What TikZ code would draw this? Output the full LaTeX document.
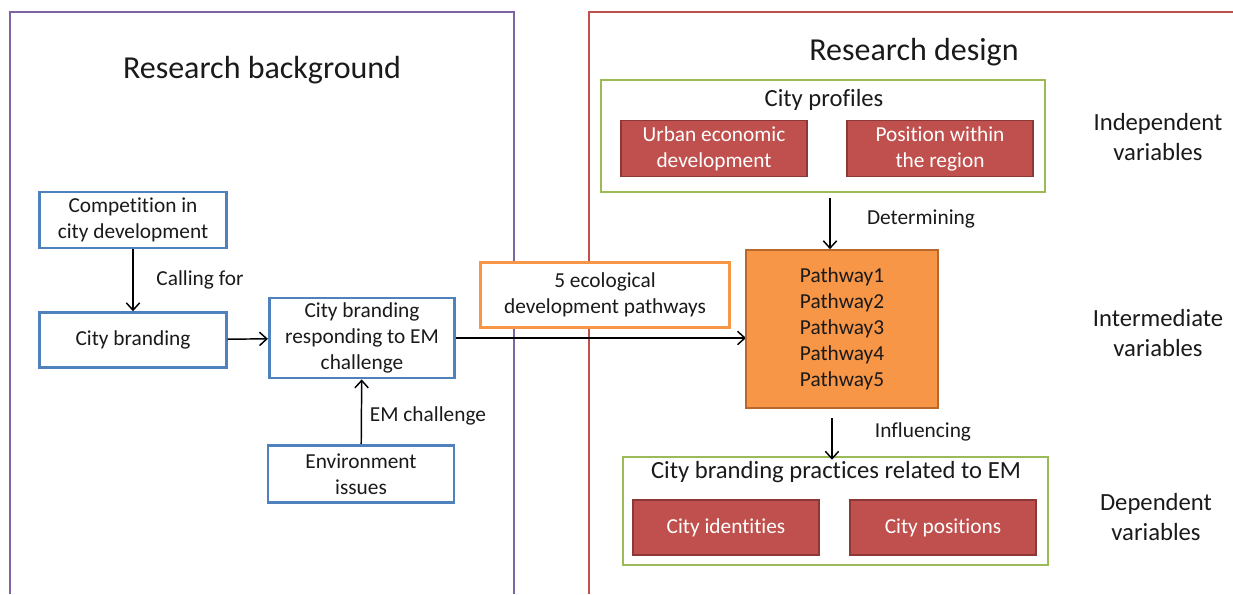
\documentclass[tikz,border=0pt]{standalone}
\usepackage{fontspec}
\setmainfont{Carlito}[Ligatures={NoCommon}]
\usepackage{tikz}
\usetikzlibrary{arrows.meta,positioning}
\definecolor{framepurple}{HTML}{8064A2}
\definecolor{framered}{HTML}{C0504D}
\definecolor{boxblue}{HTML}{4F81BD}
\definecolor{boxgreen}{HTML}{9BBB59}
\definecolor{boxorange}{HTML}{F79646}
\definecolor{darkorange}{HTML}{B8682C}
\definecolor{boxred}{HTML}{C0504D}
\definecolor{darkred}{HTML}{8C3836}
\definecolor{textgray}{HTML}{1A1A1A}
\tikzset{
  bluebox/.style={draw=boxblue, line width=2.1pt, fill=white, align=center, inner sep=1pt,
    minimum width=140pt, font=\fontsize{16}{19.5}\selectfont},
  redbox/.style={draw=darkred, line width=1.2pt, fill=boxred, text=white, align=center, inner sep=1pt,
    minimum width=139.5pt, minimum height=42pt, font=\fontsize{16}{19.5}\selectfont},
  greenbox/.style={draw=boxgreen, line width=2.1pt},
  lbl/.style={align=center, inner sep=1pt, font=\fontsize{16}{19.5}\selectfont},
  sidelbl/.style={align=center, inner sep=1pt, font=\fontsize{18.5}{22.5}\selectfont},
  titlelbl/.style={inner sep=1pt, font=\fontsize{24}{28}\selectfont},
  link/.style={->, line width=1.1pt}
}
\begin{document}
\begin{tikzpicture}[x=0.75pt,y=-0.75pt,>={Straight Barb[length=5.5pt,width=10pt]}, text=textgray]
\useasboundingbox (0,0) rectangle (1233,594);
%the two frames
\draw[framepurple, line width=2.1pt] (10,594) -- (10,12) -- (514,12) -- (514,594);
\draw[framered, line width=2.1pt] (589,594) -- (589,12) -- (1233,12);
\node[titlelbl] (bgtitle) at (262,70) {Research background};
\node[titlelbl] (dstitle) at (914,52) {Research design};
%research background
\node[bluebox, minimum height=42pt] (compet) at (133,220) {Competition in\\city development};
\node[bluebox, minimum height=41pt] (brand) at (133,340) {City branding};
\node[bluebox, minimum width=139pt, minimum height=60pt] (resp) at (362,338) {City branding\\responding to EM\\challenge};
\node[bluebox, minimum width=139.5pt, minimum height=43pt] (envir) at (361,474) {Environment\\issues};
\draw[link] (compet) -- (brand); \node[lbl] (callfor) at (200,280) {Calling for};
\draw[link] (brand) -- (resp);
\draw[link] (envir) -- (resp); \node[lbl] (emchal) at (428,416) {EM challenge};
%link to the pathways
\draw[link] (resp.east) -- (resp.east -| 746,0);
\node[draw=boxorange, line width=2.1pt, fill=white, align=center, minimum width=187pt, minimum height=49pt,
  font=\fontsize{16}{19.5}\selectfont] (ecopath) at (605,295) {5 ecological\\development pathways};
%research design: city profiles
\draw[greenbox] (601,80) rectangle (1045,192); \node[sidelbl] (prof) at (824,100) {City profiles};
\node[redbox] (urban) at (714,148.5) {Urban economic\\development};
\node[redbox] (regpos) at (940,148.5) {Position within\\the region};
\node[sidelbl] (indep) at (1158,137) {Independent\\variables};
%pathways
\node[draw=darkorange, line width=1.2pt, fill=boxorange, align=center, minimum width=144pt, minimum height=118.5pt,
  font=\fontsize{16}{19.5}\selectfont] (pathw) at (842,329) {Pathway1\\Pathway2\\Pathway3\\Pathway4\\Pathway5};
\coordinate (detx) at (830,198); \coordinate (infx) at (832,418);
\draw[link] (detx) -- (detx |- pathw.north); \node[lbl] (determ) at (921,219) {Determining};
\node[sidelbl] (interm) at (1158,333) {Intermediate\\variables};
%city branding practices
\draw[greenbox] (623,457) rectangle (1048,565); \node[sidelbl] (pract) at (836,472) {City branding practices related to EM};
\draw[link] (infx) -- (infx |- pract.north); \node[lbl] (influ) at (923,432) {Influencing};
\node[redbox, minimum height=41pt] (ident) at (726,527.5) {City identities};
\node[redbox, minimum height=41pt] (cpos) at (943,527.5) {City positions};
\node[sidelbl] (depend) at (1156,517) {Dependent\\variables};
\end{tikzpicture}
\end{document}
